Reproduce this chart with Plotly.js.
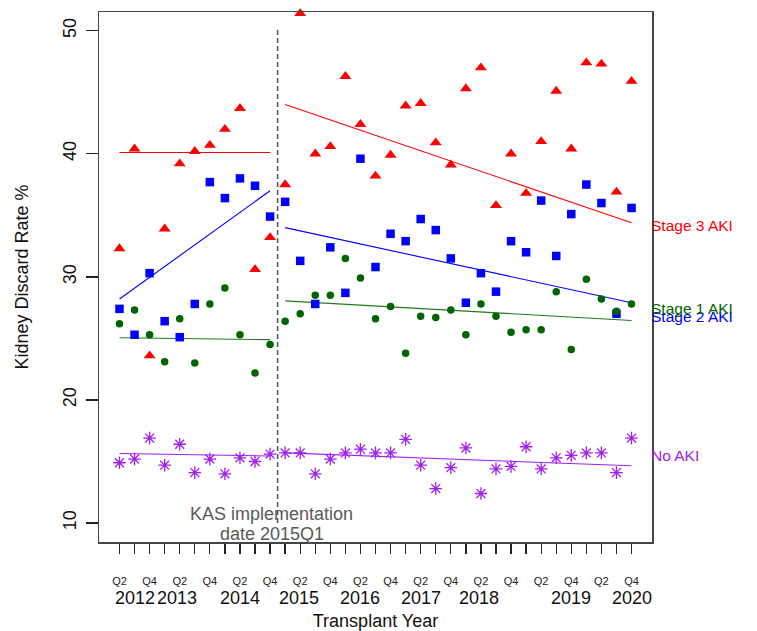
<!DOCTYPE html>
<html>
<head>
<meta charset="utf-8">
<script src="https://cdn.plot.ly/plotly-3.0.1.min.js"></script>
<style>html,body{margin:0;padding:0;background:#fff;}#chart{width:757px;height:631px;}</style>
</head>
<body>
<div id="chart"></div>
<script>
// Quarters 2012Q2 .. 2020Q4
const quarters = ['2012Q2','2012Q3','2012Q4','2013Q1','2013Q2','2013Q3','2013Q4','2014Q1','2014Q2','2014Q3','2014Q4',
  '2015Q1','2015Q2','2015Q3','2015Q4','2016Q1','2016Q2','2016Q3','2016Q4','2017Q1','2017Q2','2017Q3','2017Q4',
  '2018Q1','2018Q2','2018Q3','2018Q4','2019Q1','2019Q2','2019Q3','2019Q4','2020Q1','2020Q2','2020Q3','2020Q4'];

const stage3 = [32.3,40.4,23.6,33.9,39.2,40.2,40.7,42.0,43.7,30.6,33.2,
  37.5,51.4,40.0,40.6,46.3,42.4,38.2,39.9,43.9,44.1,40.9,39.1,45.3,47.0,35.8,40.0,36.8,41.0,45.1,40.4,47.4,47.3,36.9,45.9];
const stage2 = [27.4,25.3,30.3,26.4,25.1,27.8,37.7,36.4,38.0,37.4,34.9,
  36.1,31.3,27.8,32.4,28.7,39.6,30.8,33.5,32.9,34.7,33.8,31.5,27.9,30.3,28.8,32.9,32.0,36.2,31.7,35.1,37.5,36.0,27.0,35.6];
const stage1 = [26.2,27.3,25.3,23.1,26.6,23.0,27.8,29.1,25.3,22.2,24.5,
  26.4,27.0,28.5,28.5,31.5,29.9,26.6,27.6,23.8,26.8,26.7,27.3,25.3,27.8,26.8,25.5,25.7,25.7,28.8,24.1,29.8,28.2,27.2,27.8];
const noAki = [14.9,15.2,16.9,14.7,16.4,14.1,15.2,14.0,15.3,15.0,15.6,
  15.7,15.7,14.0,15.2,15.7,16.0,15.7,15.7,16.8,14.7,12.8,14.5,16.1,12.4,14.4,14.6,16.2,14.4,15.3,15.5,15.7,15.7,14.1,16.9];

// Fitted trend end values (pre-KAS: first..last pre quarter; post-KAS: first..last post quarter)
const preTrendStage3 = [40.1, 40.1];
const preTrendStage2 = [28.2, 37.0];
const preTrendStage1 = [25.05, 24.9];
const preTrendNoAki = [15.65, 15.45];
const postTrendStage3 = [44.0, 34.4];
const postTrendStage2 = [34.0, 27.9];
const postTrendStage1 = [28.05, 26.45];
const postTrendNoAki = [15.7, 14.65];

const seriesNames = ['Stage 3 AKI','Stage 2 AKI','Stage 1 AKI','No AKI'];
const seriesLabelY = [34.2, 26.75, 27.45, 15.45];
const yearLabels = ['2012','2013','2014','2015','2016','2017','2018','2019','2020'];
const yearLabelAt = [1.05, 3.8, 8.0, 11.9, 16.0, 20.0, 23.9, 30.0, 34.0];
const yTicks = [10,20,30,40,50];

const preEnd = quarters.indexOf('2014Q4');
const postStart = quarters.indexOf('2015Q1');
const preX = [quarters[0], quarters[preEnd]];
const postX = [quarters[postStart], quarters[quarters.length-1]];
const kasX = (preEnd + postStart) / 2;

const RED = '#FF0000', BLUE = '#0000FF', GREEN = '#006400', PURPLE = '#A020F0';
const FONT = 'Liberation Sans, Arial, sans-serif';

function pts(y, color, symbol, size) {
  return {x: quarters, y: y, type: 'scatter', mode: 'markers', cliponaxis: false,
    marker: {color: color, symbol: symbol, size: size, line: {width: 0}}, showlegend: false};
}
function trend(x, y, color) {
  return {x: x, y: y, type: 'scatter', mode: 'lines', line: {color: color, width: 1.1}, showlegend: false, hoverinfo: 'skip'};
}

const traces = [
  trend(preX, preTrendStage3, RED), trend(postX, postTrendStage3, RED),
  trend(preX, preTrendStage2, BLUE), trend(postX, postTrendStage2, BLUE),
  trend(preX, preTrendStage1, '#1f7a1f'), trend(postX, postTrendStage1, '#1f7a1f'),
  trend(preX, preTrendNoAki, PURPLE), trend(postX, postTrendNoAki, PURPLE),
  pts(stage3, RED, 'triangle-up', 10.5),
  pts(stage2, BLUE, 'square', 8.5),
  pts(stage1, GREEN, 'circle', 7.5),
  {x: quarters, y: noAki, type: 'scatter', mode: 'markers', cliponaxis: false, showlegend: false,
   marker: {symbol: 'asterisk-open', size: 10.5, color: PURPLE, line: {color: PURPLE, width: 1.3}}}
];

const tickText = quarters.map(q => (q.endsWith('Q2') || q.endsWith('Q4')) ? q.slice(4) : '');

const annotations = [];
yearLabels.forEach((t, i) => annotations.push({
  x: yearLabelAt[i], xref: 'x', y: 0, yref: 'paper', yanchor: 'middle', xanchor: 'center',
  yshift: -56, text: t, showarrow: false, font: {family: FONT, size: 18, color: '#111'}
}));
const labelColors = [RED, BLUE, GREEN, PURPLE];
seriesNames.forEach((t, i) => annotations.push({
  x: 1, xref: 'paper', y: seriesLabelY[i], yref: 'y', xanchor: 'left', yanchor: 'middle', xshift: -3,
  text: t, showarrow: false, font: {family: FONT, size: 15.5, color: labelColors[i]}
}));
annotations.push({x: kasX - 0.4, xref: 'x', y: 10.75, yref: 'y', text: 'KAS implementation', showarrow: false,
  xanchor: 'center', yanchor: 'middle', font: {family: FONT, size: 18, color: '#5a5a5a'}});
annotations.push({x: kasX - 0.4, xref: 'x', y: 9.1, yref: 'y', text: 'date 2015Q1', showarrow: false,
  xanchor: 'center', yanchor: 'middle', font: {family: FONT, size: 18, color: '#5a5a5a'}});

const layout = {
  width: 757, height: 631,
  margin: {l: 99, r: 105, t: 12, b: 89, pad: 0},
  paper_bgcolor: '#fff', plot_bgcolor: '#fff',
  font: {family: FONT, color: '#111'},
  xaxis: {
    type: 'category', categoryorder: 'array', categoryarray: quarters,
    range: [-1.36, 35.36], tickmode: 'array', tickvals: quarters, ticktext: tickText,
    ticks: 'outside', ticklen: 10, tickwidth: 1.3, tickcolor: '#222',
    tickfont: {family: FONT, size: 11, color: '#222'}, ticklabelstandoff: 18,
    showgrid: false, zeroline: false, showline: true, mirror: true, linecolor: '#444', linewidth: 1.5,
    title: {text: 'Transplant Year', font: {family: FONT, size: 18, color: '#111'}, standoff: 30},
    automargin: false
  },
  yaxis: {
    range: [8.46, 51.52], tickmode: 'array', tickvals: yTicks, ticktext: yTicks.map(String), tickangle: -90,
    ticks: 'outside', ticklen: 12, tickwidth: 1.3, tickcolor: '#222',
    tickfont: {family: FONT, size: 18, color: '#111'}, ticklabelstandoff: 2,
    showgrid: false, zeroline: false, showline: true, mirror: true, linecolor: '#444', linewidth: 1.5,
    title: {text: 'Kidney Discard Rate %', font: {family: FONT, size: 18, color: '#111'}, standoff: 27},
    automargin: false
  },
  shapes: [{type: 'line', xref: 'x', yref: 'y', x0: kasX, x1: kasX, y0: 10, y1: 50.1,
    line: {color: '#5a5a5a', width: 1.6, dash: '5px,3px'}}],
  annotations: annotations
};

Plotly.newPlot('chart', traces, layout, {displayModeBar: false, staticPlot: true});
</script>
</body>
</html>
